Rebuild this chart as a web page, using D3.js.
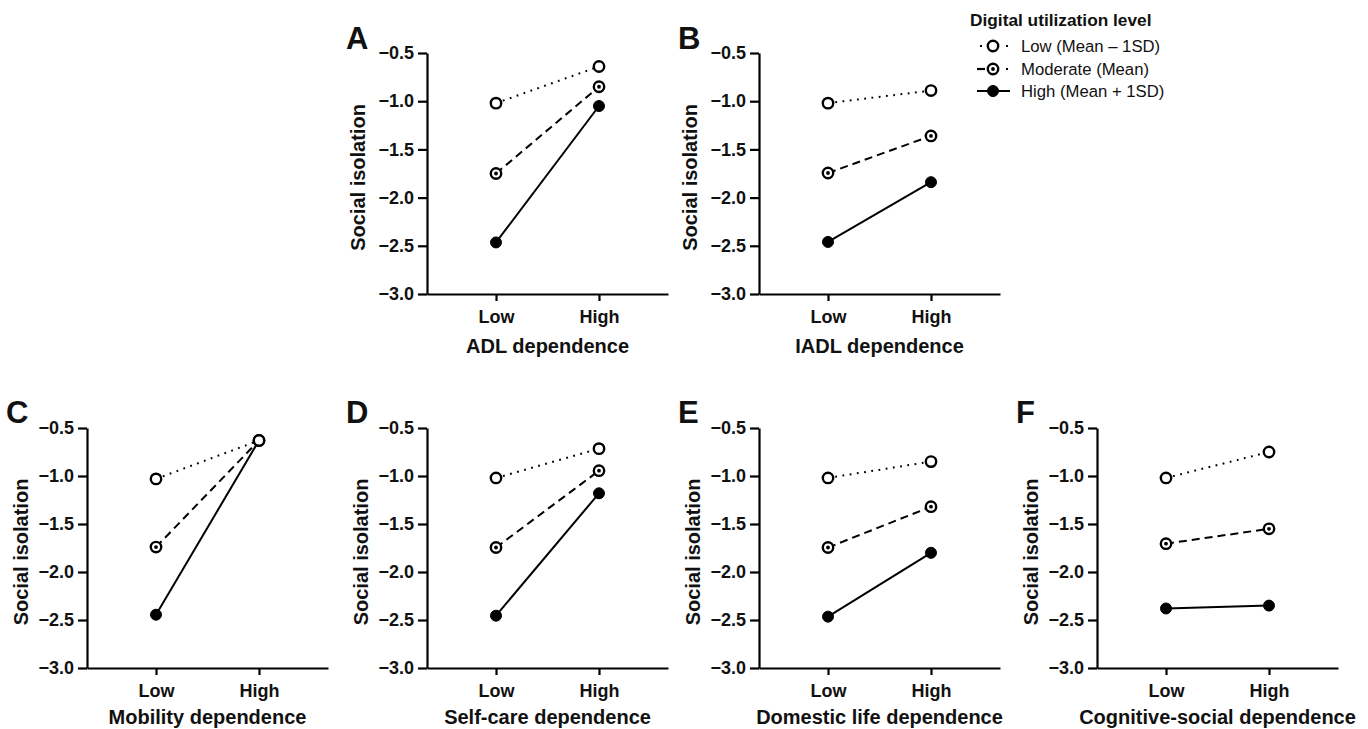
<!DOCTYPE html>
<html>
<head>
<meta charset="utf-8">
<script src="https://cdn.jsdelivr.net/npm/d3@7"></script>
<style>
  html, body { margin: 0; padding: 0; background: #fff; }
  svg { display: block; }
  text { font-family: "Liberation Sans", Arial, sans-serif; fill: #111; }
</style>
</head>
<body>
<svg id="chart" width="1368" height="729"></svg>
<script>
// ---------------- DATA ----------------
const categories = ["Low", "High"];
const panelLetters = ["A", "B", "C", "D", "E", "F"];
const panelTitles = ["ADL dependence", "IADL dependence", "Mobility dependence",
                     "Self-care dependence", "Domestic life dependence", "Cognitive-social dependence"];
const yTicks = [-3.0, -2.5, -2.0, -1.5, -1.0, -0.5];
const seriesNames = ["Low (Mean \u2013 1SD)", "Moderate (Mean)", "High (Mean + 1SD)"];
const legendTitle = "Digital utilization level";
const yTitle = "Social isolation";

// values per panel: [Low dependence, High dependence]
const lowDigital = [
  [-1.02, -0.64], [-1.02, -0.89], [-1.03, -0.63],
  [-1.02, -0.715], [-1.02, -0.85], [-1.02, -0.75]
];
const moderateDigital = [
  [-1.75, -0.85], [-1.745, -1.36], [-1.74, -0.63],
  [-1.745, -0.945], [-1.745, -1.32], [-1.705, -1.55]
];
const highDigital = [
  [-2.465, -1.05], [-2.46, -1.84], [-2.445, -0.63],
  [-2.455, -1.18], [-2.465, -1.80], [-2.38, -2.35]
];

// ---------------- LAYOUT ----------------
const svg = d3.select("#chart");
const colX = [87, 427, 759, 1097];
const rows = [
  { top: 53, bottom: 294, titleOff: 59, yTitleOff: 62, letterBase: 49 },
  { top: 428, bottom: 668, titleOff: 56, yTitleOff: 59, letterBase: 423 }
];
const panelPos = [
  { row: 0, col: 1 }, { row: 0, col: 2 },
  { row: 1, col: 0 }, { row: 1, col: 1 }, { row: 1, col: 2 }, { row: 1, col: 3 }
];
const axisW = 241;

const styles = [
  { dash: "1.8 5.5", marker: "open" },
  { dash: "8 5", marker: "dot" },
  { dash: null, marker: "filled" }
];
const allSeries = [lowDigital, moderateDigital, highDigital];
const fmt = d3.format(".1f");

function drawMarker(g, type, cx, cy) {
  if (type === "filled") {
    g.append("circle").attr("cx", cx).attr("cy", cy).attr("r", 5.5)
      .attr("fill", "#000").attr("stroke", "#000").attr("stroke-width", 1);
  } else {
    g.append("circle").attr("cx", cx).attr("cy", cy).attr("r", 5.2)
      .attr("fill", "#fff").attr("stroke", "#000").attr("stroke-width", 2.4);
    if (type === "dot") {
      g.append("circle").attr("cx", cx).attr("cy", cy).attr("r", 1.9).attr("fill", "#000");
    }
  }
}

panelPos.forEach((p, i) => {
  const r = rows[p.row];
  const ox = colX[p.col];
  const h = r.bottom - r.top;
  const g = svg.append("g").attr("transform", `translate(${ox},${r.top})`);

  const x = d3.scalePoint().domain(categories).range([0, axisW]).padding(0.67);
  const y = d3.scaleLinear().domain([-3, -0.5]).range([h, 0]);

  // y axis
  const ya = g.append("g").call(d3.axisLeft(y).tickValues(yTicks).tickFormat(fmt)
      .tickSize(9).tickSizeOuter(0).tickPadding(4));
  ya.selectAll("text").attr("font-size", "18px").attr("font-weight", "bold")
      .attr("font-family", '"Liberation Sans", Arial, sans-serif').attr("fill", "#111");
  ya.selectAll("line,path").attr("stroke", "#000").attr("stroke-width", 2.2);

  // x axis
  const xa = g.append("g").attr("transform", `translate(0,${h})`)
      .call(d3.axisBottom(x).tickSize(7).tickSizeOuter(0).tickPadding(9));
  xa.selectAll("text").attr("font-size", "18px").attr("font-weight", "bold")
      .attr("font-family", '"Liberation Sans", Arial, sans-serif').attr("fill", "#111");
  xa.selectAll("line,path").attr("stroke", "#000").attr("stroke-width", 2.2);

  // titles
  g.append("text").attr("x", axisW / 2).attr("y", h + r.titleOff)
    .attr("text-anchor", "middle").attr("font-size", "20px").attr("font-weight", "bold")
    .text(panelTitles[i]);
  g.append("text")
    .attr("transform", `translate(${-r.yTitleOff},${h / 2 + 4}) rotate(-90)`)
    .attr("text-anchor", "middle").attr("font-size", "20px").attr("font-weight", "bold")
    .text(yTitle);
  svg.append("text").attr("x", ox - 81).attr("y", r.letterBase)
    .attr("font-size", "31px").attr("font-weight", "bold").text(panelLetters[i]);

  // lines
  const line = d3.line().x((d, k) => x(categories[k])).y(d => y(d));
  allSeries.forEach((s, si) => {
    const path = g.append("path").datum(s[i]).attr("d", line)
      .attr("fill", "none").attr("stroke", "#000").attr("stroke-width", 2);
    if (styles[si].dash) path.attr("stroke-dasharray", styles[si].dash);
  });
  // markers: high first, low last (on top)
  [2, 1, 0].forEach(si => {
    allSeries[si][i].forEach((v, k) => drawMarker(g, styles[si].marker, x(categories[k]), y(v)));
  });
});

// ---------------- LEGEND ----------------
const lg = svg.append("g");
lg.append("text").attr("x", 970).attr("y", 26).attr("font-size", "17.3px")
  .attr("font-weight", "bold").text(legendTitle);
const rowY = [46, 69, 91];
seriesNames.forEach((name, si) => {
  const cy = rowY[si];
  const mx = 993;
  if (si === 0) {
    lg.append("line").attr("x1", 980).attr("x2", 1008).attr("y1", cy).attr("y2", cy)
      .attr("stroke", "#000").attr("stroke-width", 2).attr("stroke-dasharray", "2 11");
  } else if (si === 1) {
    lg.append("line").attr("x1", 977).attr("x2", 985).attr("y1", cy).attr("y2", cy)
      .attr("stroke", "#000").attr("stroke-width", 2.2);
    lg.append("line").attr("x1", 1006).attr("x2", 1008).attr("y1", cy).attr("y2", cy)
      .attr("stroke", "#000").attr("stroke-width", 2);
  } else {
    lg.append("line").attr("x1", 977).attr("x2", 1010).attr("y1", cy).attr("y2", cy)
      .attr("stroke", "#000").attr("stroke-width", 2.2);
  }
  drawMarker(lg, styles[si].marker, mx, cy);
  lg.append("text").attr("x", 1021).attr("y", cy + 6).attr("font-size", "16.7px")
    .text(name);
});
</script>
</body>
</html>
